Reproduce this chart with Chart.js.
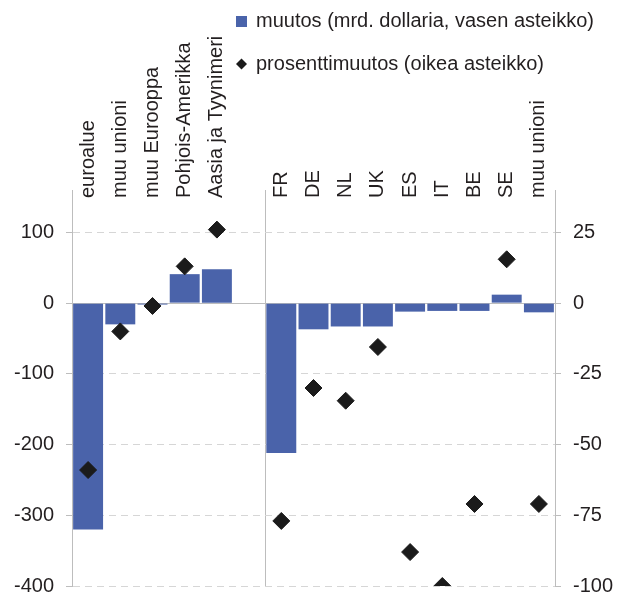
<!DOCTYPE html>
<html>
<head>
<meta charset="utf-8">
<script src="https://cdn.jsdelivr.net/npm/chart.js@4.4.1/dist/chart.umd.min.js"></script>
<style>
  html, body { margin: 0; padding: 0; background: #fff; }
</style>
</head>
<body>
<canvas id="chart" width="617" height="597"></canvas>
<script>
"use strict";

// Categories: regions, an empty slot, then countries
const categories = ["euroalue", "muu unioni", "muu Eurooppa", "Pohjois-Amerikka", "Aasia ja Tyynimeri", "",
  "FR", "DE", "NL", "UK", "ES", "IT", "BE", "SE", "muu unioni"];

// muutos, mrd. dollaria (left axis)
const changeValues = [-320, -30, -2, 41, 48, null, -212, -37, -33, -33, -12, -11, -11, 12, -13];

// prosenttimuutos (right axis)
const pctValues = [-59, -10, -1, 13, 26, null, -77, -30, -34.5, -15.5, -88, -100, -71, 15.5, -71];

const leftTicks = [100, 0, -100, -200, -300, -400];
const rightTicks = [25, 0, -25, -50, -75, -100];

const seriesLabels = ["muutos (mrd. dollaria, vasen asteikko)", "prosenttimuutos (oikea asteikko)"];

// Styles
const BAR_COLOR = "#4a63aa";
const DOT_COLOR = "#1b1b1b";
const AXIS_COLOR = "#bdbdbd";
const GRID_COLOR = "#d6d6d6";
const TEXT_COLOR = "#231f20";
const FONT = { family: "'Liberation Sans', Arial, sans-serif", size: 20, lineHeight: 1.2 };

// grid line index that separates the two groups
const SPLIT = categories.indexOf("") + 1;

// Legend drawn in the upper right, over the label area
const sideLegend = {
  id: "sideLegend",
  afterDraw(chart) {
    const ctx = chart.ctx;
    const items = Chart.defaults.plugins.legend.labels.generateLabels(chart)
      .sort((a, b) => a.datasetIndex - b.datasetIndex);
    ctx.save();
    ctx.font = `${FONT.size}px ${FONT.family}`;
    ctx.textBaseline = "middle";
    items.forEach((item, i) => {
      const y = 21 + i * 43;
      const type = chart.data.datasets[item.datasetIndex].type;
      ctx.fillStyle = item.fillStyle;
      if (type === "bar") {
        ctx.fillRect(236, y - 5, 11, 11);
      } else {
        ctx.strokeStyle = item.fillStyle;
        Chart.helpers.drawPoint(ctx, { pointStyle: "rectRot", radius: 5.5, borderWidth: 0 }, 241.5, y);
      }
      ctx.fillStyle = TEXT_COLOR;
      ctx.fillText(item.text, 256, y);
    });
    ctx.restore();
  }
};

// value axes: fixed width, and only a little room under the last tick label
function fitValueAxis(width) {
  return (s) => {
    s.width = width;
    s.paddingTop = 0;
    s.paddingBottom = 11;
  };
}

new Chart(document.getElementById("chart"), {
  data: {
    labels: categories,
    datasets: [
      {
        type: "bar",
        label: seriesLabels[0],
        data: changeValues,
        yAxisID: "y",
        backgroundColor: BAR_COLOR,
        barPercentage: 1,
        categoryPercentage: 0.93,
        order: 1
      },
      {
        type: "line",
        label: seriesLabels[1],
        data: pctValues,
        yAxisID: "y1",
        showLine: false,
        pointStyle: "rectRot",
        pointRadius: 8.5,
        pointBorderWidth: 1,
        pointBackgroundColor: DOT_COLOR,
        pointBorderColor: DOT_COLOR,
        backgroundColor: DOT_COLOR,
        borderColor: DOT_COLOR,
        order: 0
      }
    ]
  },
  options: {
    responsive: false,
    animation: false,
    devicePixelRatio: 1,
    layout: { padding: 0 },
    plugins: {
      legend: { display: false },
      tooltip: { enabled: false }
    },
    scales: {
      x: {
        position: "top",
        offset: true,
        grid: {
          offset: true,
          drawTicks: false,
          color: (c) => (c.index === SPLIT ? AXIS_COLOR : "transparent")
        },
        border: { display: false },
        // mirror keeps the rotated labels centred and lets them start just below the axis box
        ticks: { autoSkip: false, minRotation: 90, maxRotation: 90, mirror: true, padding: 8, font: FONT, color: TEXT_COLOR },
        afterFit: (s) => { s.height = 190; }
      },
      y: {
        position: "left",
        min: -400,
        max: 160,
        afterBuildTicks: (s) => { s.ticks = leftTicks.map((v) => ({ value: v })); },
        grid: {
          color: (c) => (c.tick && c.tick.value === 0 ? AXIS_COLOR : GRID_COLOR),
          tickColor: AXIS_COLOR,
          tickLength: 6
        },
        border: {
          color: AXIS_COLOR,
          dash: (c) => (c.tick && c.tick.value === 0 ? [] : [7, 5])
        },
        ticks: { padding: 12, font: FONT, color: TEXT_COLOR },
        afterFit: fitValueAxis(72)
      },
      y1: {
        position: "right",
        min: -100,
        max: 40,
        afterBuildTicks: (s) => { s.ticks = rightTicks.map((v) => ({ value: v })); },
        grid: { drawOnChartArea: false, color: AXIS_COLOR, tickColor: AXIS_COLOR, tickLength: 6 },
        border: { color: AXIS_COLOR },
        ticks: { padding: 12, font: FONT, color: TEXT_COLOR },
        afterFit: fitValueAxis(62)
      }
    }
  },
  plugins: [sideLegend]
});
</script>
</body>
</html>
